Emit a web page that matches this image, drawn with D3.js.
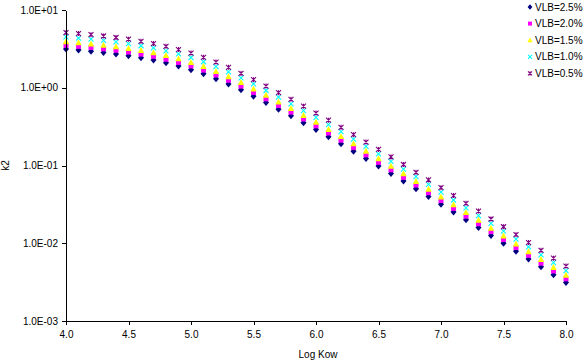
<!DOCTYPE html>
<html>
<head>
<meta charset="utf-8">
<script src="https://cdn.jsdelivr.net/npm/d3@7"></script>
<style>
body { margin: 0; background: #fff; }
text { font-family: Arial, "Liberation Sans", sans-serif; font-size: 10px; fill: #000; }
</style>
</head>
<body>
<script>
// Log Kow values, 4.0 .. 8.0 in steps of 0.1
var logKow = [4.0,4.1,4.2,4.3,4.4,4.5,4.6,4.7,4.8,4.9,5.0,5.1,5.2,5.3,5.4,5.5,5.6,5.7,5.8,5.9,
              6.0,6.1,6.2,6.3,6.4,6.5,6.6,6.7,6.8,6.9,7.0,7.1,7.2,7.3,7.4,7.5,7.6,7.7,7.8,7.9,8.0];

var seriesNames = ["VLB=2.5%", "VLB=2.0%", "VLB=1.5%", "VLB=1.0%", "VLB=0.5%"];

var vlb25 = [3.15,3.05,2.95,2.84,2.72,2.58,2.43,2.27,2.09,1.90,1.71,1.51,1.31,1.12,0.94,0.78,0.645,0.53,0.435,0.355,
             0.29,0.235,0.19,0.153,0.123,0.0985,0.0789,0.063,0.0502,0.04,0.0318,0.0252,0.02,0.0159,0.0126,0.01,0.0079,0.00627,0.00497,0.00394,0.00312];
var vlb20 = [3.52,3.41,3.30,3.17,3.04,2.88,2.71,2.54,2.33,2.12,1.91,1.69,1.46,1.25,1.05,0.871,0.72,0.592,0.486,0.397,
             0.324,0.262,0.212,0.171,0.137,0.110,0.0881,0.0704,0.0561,0.0447,0.0355,0.0281,0.0223,0.0178,0.0141,0.0112,0.00882,0.007,0.00555,0.0044,0.00349];
var vlb15 = [3.91,3.78,3.66,3.52,3.37,3.20,3.01,2.81,2.59,2.36,2.12,1.87,1.62,1.39,1.17,0.967,0.80,0.657,0.539,0.44,
             0.36,0.291,0.236,0.19,0.153,0.122,0.0978,0.0781,0.0622,0.0496,0.0394,0.0312,0.0248,0.0197,0.0156,0.0124,0.0098,0.00777,0.00616,0.00489,0.00387];
var vlb10 = [4.50,4.36,4.22,4.06,3.89,3.69,3.47,3.25,2.99,2.72,2.45,2.16,1.87,1.60,1.34,1.12,0.922,0.758,0.622,0.508,
             0.415,0.336,0.272,0.219,0.176,0.141,0.113,0.0901,0.0718,0.0572,0.0455,0.036,0.0286,0.0227,0.018,0.0143,0.0113,0.00897,0.00711,0.00563,0.00446];
var vlb05 = [5.13,4.97,4.81,4.63,4.43,4.21,3.96,3.70,3.41,3.10,2.79,2.46,2.14,1.83,1.53,1.27,1.05,0.864,0.709,0.579,
             0.473,0.383,0.31,0.249,0.2,0.161,0.129,0.103,0.0818,0.0652,0.0518,0.0411,0.0326,0.0259,0.0205,0.0163,0.0129,0.0102,0.0081,0.00642,0.00509];

var xTicks = [4.0,4.5,5.0,5.5,6.0,6.5,7.0,7.5,8.0];
var yTicks = [0.001,0.01,0.1,1,10];
var yTickLabels = ["1.0E-03","1.0E-02","1.0E-01","1.0E+00","1.0E+01"];

var width = 588, height = 362;
var plotLeft = 66, plotRight = 566, plotTop = 10, plotBottom = 321;

var colors = ["#000080", "#ff00ff", "#ffff00", "#00ffff", "#800080"];
var shapes = ["diamond", "square", "triangle", "cross", "star"];
var allValues = [vlb25, vlb20, vlb15, vlb10, vlb05];

var x = d3.scaleLinear().domain([4, 8]).range([plotLeft, plotRight]);
var y = d3.scaleLog().domain([0.001, 10]).range([plotBottom, plotTop]);

var svg = d3.select("body").append("svg")
    .attr("width", width)
    .attr("height", height);

// draw one marker at (0,0)
function marker(g, shape, color, s) {
  if (shape == "diamond") {
    g.append("path").attr("d", "M0," + (-3.5*s) + "L" + (3*s) + ",0L0," + (3.5*s) + "L" + (-3*s) + ",0Z")
      .attr("fill", color);
  } else if (shape == "square") {
    g.append("rect").attr("x", -2.5*s).attr("y", -2.5*s).attr("width", 5*s).attr("height", 5*s)
      .attr("fill", color);
  } else if (shape == "triangle") {
    g.append("path").attr("d", "M0," + (-3.5*s) + "L" + (3.2*s) + "," + (2.5*s) + "L" + (-3.2*s) + "," + (2.5*s) + "Z")
      .attr("fill", color);
  } else if (shape == "cross") {
    var a = 2.5*s;
    g.append("path").attr("d", "M" + (-a) + "," + (-a) + "L" + a + "," + a + "M" + a + "," + (-a) + "L" + (-a) + "," + a)
      .attr("stroke", color).attr("stroke-width", 1.1).attr("fill", "none");
  } else {
    var b = 2.5*s;
    g.append("path").attr("d", "M" + (-b) + "," + (-b) + "L" + b + "," + b + "M" + b + "," + (-b) + "L" + (-b) + "," + b +
        "M0," + (-b) + "L0," + b)
      .attr("stroke", color).attr("stroke-width", 1.1).attr("fill", "none");
  }
}

// points, series in order so later ones sit on top
allValues.forEach(function(vals, si) {
  var grp = svg.append("g").attr("class", "series");
  vals.forEach(function(v, i) {
    var g = grp.append("g")
        .attr("transform", "translate(" + x(logKow[i]) + "," + y(v) + ")");
    marker(g, shapes[si], colors[si], 1);
  });
});

// axes
var xAxis = d3.axisBottom(x)
    .tickValues(xTicks)
    .tickFormat(d3.format(".1f"))
    .tickSizeInner(4).tickSizeOuter(0).tickPadding(6);
var yAxis = d3.axisLeft(y)
    .tickValues(yTicks)
    .tickFormat(function(d, i) { return yTickLabels[i]; })
    .tickSizeInner(4).tickSizeOuter(0).tickPadding(4);

var gx = svg.append("g").attr("transform", "translate(0," + plotBottom + ")").call(xAxis);
var gy = svg.append("g").attr("transform", "translate(" + plotLeft + ",0)").call(yAxis);

[gx, gy].forEach(function(g) {
  g.selectAll("path, line").attr("stroke", "#000").attr("shape-rendering", "crispEdges");
  g.selectAll("text").attr("font-family", "Arial, 'Liberation Sans', sans-serif").attr("font-size", 10).attr("fill", "#000");
});

// axis titles
svg.append("text")
    .attr("x", (plotLeft + plotRight) / 2 + 2)
    .attr("y", 358)
    .attr("text-anchor", "middle")
    .text("Log Kow");

svg.append("text")
    .attr("transform", "translate(9," + ((plotTop + plotBottom) / 2) + ") rotate(-90)")
    .attr("text-anchor", "middle")
    .text("k2");

// legend
var legend = svg.append("g").attr("transform", "translate(530,7)");
seriesNames.forEach(function(name, i) {
  var row = legend.append("g").attr("transform", "translate(0," + (i * 16.6) + ")");
  marker(row, shapes[i], colors[i], 0.8);
  row.append("text")
      .attr("x", 5)
      .attr("y", 0)
      .attr("dy", "0.35em")
      .text(name);
});
</script>
</body>
</html>
